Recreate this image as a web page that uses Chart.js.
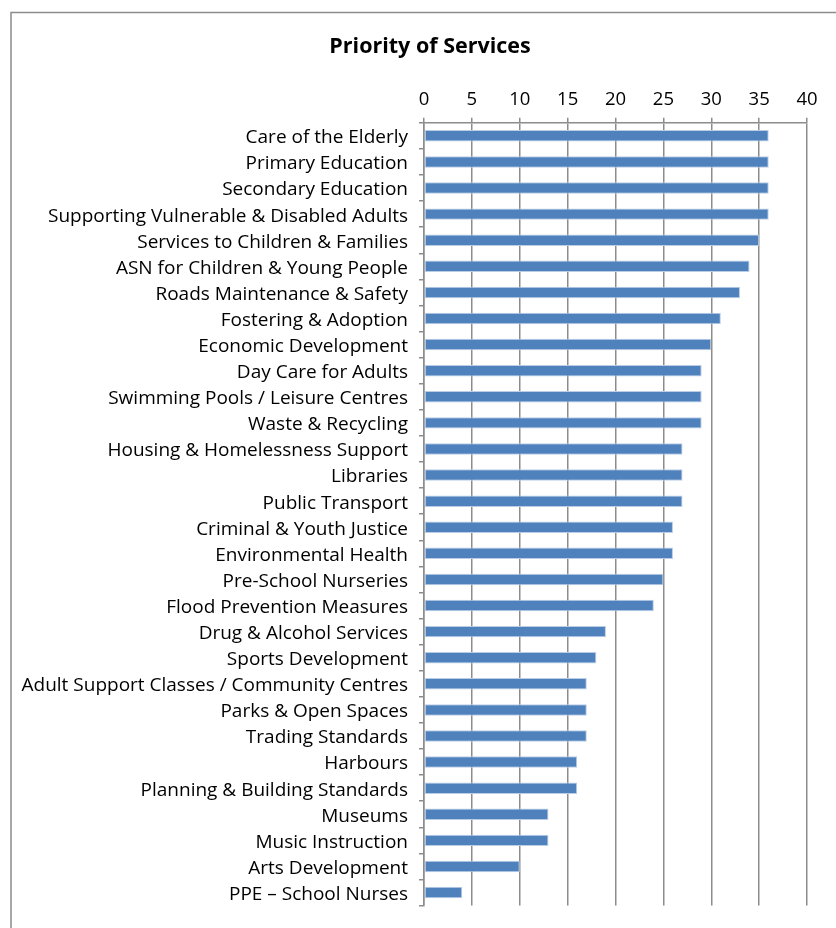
<!DOCTYPE html>
<html>
<head>
<meta charset="utf-8">
<script src="https://cdn.jsdelivr.net/npm/chart.js@4"></script>
<style>
html,body{margin:0;padding:0;background:#fff;}
#wrap{width:836px;height:928px;position:relative;}
</style>
</head>
<body>
<div id="wrap"><canvas id="c" width="836" height="928"></canvas></div>
<script>
const categories = [
  "Care of the Elderly",
  "Primary Education",
  "Secondary Education",
  "Supporting Vulnerable & Disabled Adults",
  "Services to Children & Families",
  "ASN for Children & Young People",
  "Roads Maintenance & Safety",
  "Fostering & Adoption",
  "Economic Development",
  "Day Care for Adults",
  "Swimming Pools / Leisure Centres",
  "Waste & Recycling",
  "Housing & Homelessness Support",
  "Libraries",
  "Public Transport",
  "Criminal & Youth Justice",
  "Environmental Health",
  "Pre-School Nurseries",
  "Flood Prevention Measures",
  "Drug & Alcohol Services",
  "Sports Development",
  "Adult Support Classes / Community Centres",
  "Parks & Open Spaces",
  "Trading Standards",
  "Harbours",
  "Planning & Building Standards",
  "Museums",
  "Music Instruction",
  "Arts Development",
  "PPE \u2013 School Nurses"
];
const values = [36,36,36,36,35,34,33,31,30,29,29,29,27,27,27,26,26,25,24,19,18,17,17,17,16,16,13,13,10,4];
const xMin = 0, xMax = 40, xStep = 5;
const chartTitle = "Priority of Services";

const FONT = "'Open Sans', Lato, sans-serif";

const framePlugin = {
  id: 'frame',
  beforeDraw(chart) {
    const ctx = chart.ctx;
    ctx.save();
    ctx.fillStyle = '#fff';
    ctx.fillRect(0, 0, chart.width, chart.height);
    ctx.strokeStyle = '#8c8c8c';
    ctx.lineWidth = 1.5;
    ctx.strokeRect(11, 12.5, 900, 1000);
    ctx.restore();
  },
  afterLayout(chart) {
    // center the title over the framed chart like the original
    const t = chart.titleBlock;
    if (t) { t.left = 53; t.right = chart.chartArea.right; }
  }
};

new Chart(document.getElementById('c'), {
  type: 'bar',
  data: {
    labels: categories,
    datasets: [{
      data: values,
      backgroundColor: '#4f81bd',
      borderColor: '#b9cde6',
      borderWidth: 1,
      borderSkipped: false,
      categoryPercentage: 1.0,
      barPercentage: 0.44
    }]
  },
  options: {
    indexAxis: 'y',
    responsive: false,
    animation: false,
    devicePixelRatio: 1,
    layout: { padding: { top: 0, right: 29, bottom: 21, left: 0 } },
    plugins: {
      legend: { display: false },
      tooltip: { enabled: false },
      title: {
        display: true,
        text: chartTitle,
        color: '#000',
        font: { family: FONT, size: 21.5, weight: 'bold' },
        padding: { top: 34, bottom: 0 }
      }
    },
    scales: {
      x: {
        position: 'top',
        min: xMin,
        max: xMax,
        afterFit(scale) { scale.height = 63; },
        ticks: {
          stepSize: xStep,
          color: '#000',
          font: { family: FONT, size: 18.5 },
          padding: 7,
          maxRotation: 0
        },
        grid: {
          color: '#8c8c8c',
          lineWidth: 1.5,
          tickLength: 5,
          drawTicks: true
        },
        border: { display: true, color: '#8c8c8c', width: 1.5 }
      },
      y: {
        afterFit(scale) { scale.width = 424; },
        ticks: {
          color: '#000',
          font: { family: FONT, size: 19 },
          padding: 11,
          labelOffset: 2,
          autoSkip: false
        },
        grid: {
          offset: true,
          drawOnChartArea: false,
          color: '#8c8c8c',
          lineWidth: 1.5,
          tickLength: 5
        },
        border: { display: true, color: '#8c8c8c', width: 1.5 }
      }
    }
  },
  plugins: [framePlugin]
});
</script>
</body>
</html>
